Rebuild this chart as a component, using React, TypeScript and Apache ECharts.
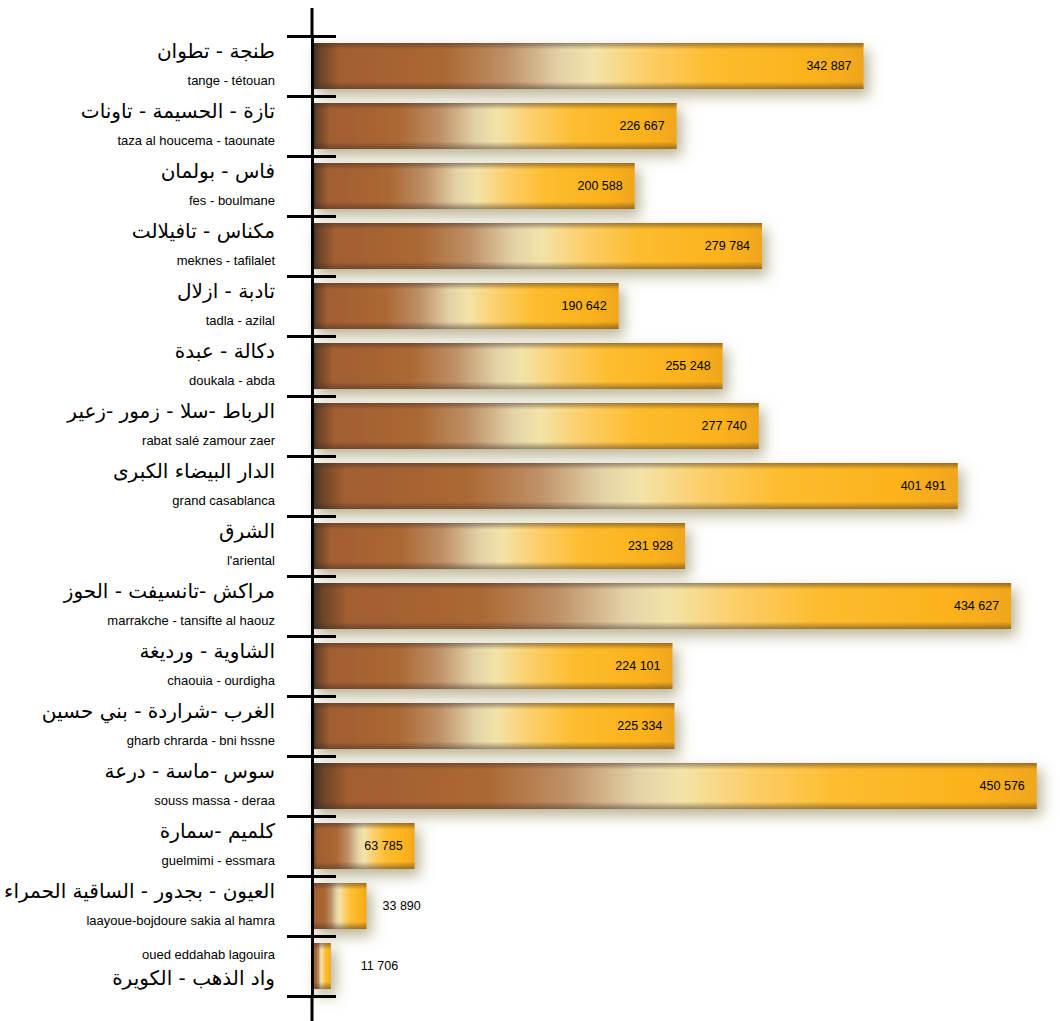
import React, { useEffect, useRef } from "react";
import * as echarts from "echarts";

const regionsFr = [
  "tange - tétouan",
  "taza al houcema - taounate",
  "fes - boulmane",
  "meknes - tafilalet",
  "tadla - azilal",
  "doukala - abda",
  "rabat salé zamour zaer",
  "grand casablanca",
  "l'ariental",
  "marrakche - tansifte al haouz",
  "chaouia - ourdigha",
  "gharb chrarda - bni hssne",
  "souss massa - deraa",
  "guelmimi - essmara",
  "laayoue-bojdoure sakia al hamra",
  "oued eddahab lagouira",
];

const regionsAr = [
  "طنجة - تطوان",
  "تازة - الحسيمة - تاونات",
  "فاس - بولمان",
  "مكناس - تافيلالت",
  "تادبة - ازلال",
  "دكالة - عبدة",
  "الرباط -سلا - زمور -زعير",
  "الدار البيضاء الكبرى",
  "الشرق",
  "مراكش -تانسيفت - الحوز",
  "الشاوية - ورديغة",
  "الغرب -شراردة - بني حسين",
  "سوس -ماسة - درعة",
  "كلميم -سمارة",
  "العيون - بجدور - الساقية الحمراء",
  "واد الذهب - الكويرة",
];

const values = [
  342887, 226667, 200588, 279784, 190642, 255248, 277740, 401491, 231928,
  434627, 224101, 225334, 450576, 63785, 33890, 11706,
];

const fmt = (v: number) => String(v).replace(/\B(?=(\d{3})+(?!\d))/g, " ");

export default function App() {
  const ref = useRef<HTMLDivElement>(null);
  useEffect(() => {
    document.body.style.margin = "0";
    const chart = echarts.init(ref.current!, undefined, { renderer: "svg" });
    const n = values.length;
    const barGrad = new echarts.graphic.LinearGradient(0, 0, 1, 0, [
      { offset: 0, color: "#3a2c22" },
      { offset: 0.015, color: "#6a4428" },
      { offset: 0.05, color: "#a25e30" },
      { offset: 0.24, color: "#ab6834" },
      { offset: 0.35, color: "#be9066" },
      { offset: 0.45, color: "#e4d2a8" },
      { offset: 0.51, color: "#f3e3a8" },
      { offset: 0.6, color: "#fccf6c" },
      { offset: 0.72, color: "#fdbd30" },
      { offset: 0.92, color: "#fbb11a" },
      { offset: 1, color: "#f0a61a" },
    ]);
    const edgeGrad = new echarts.graphic.LinearGradient(0, 0, 0, 1, [
      { offset: 0, color: "rgba(60,45,40,0.5)" },
      { offset: 0.14, color: "rgba(60,45,40,0)" },
      { offset: 0.84, color: "rgba(60,45,40,0)" },
      { offset: 1, color: "rgba(60,45,40,0.5)" },
    ]);
    const overlayData = values.map((v) => {
      if (v < 40000) {
        return {
          value: v,
          label: { position: "right", distance: v < 20000 ? 30 : 16 },
        };
      }
      return { value: v };
    });
    chart.setOption({
      animation: false,
      grid: {
        left: 312,
        right: 0,
        top: 36,
        bottom: 25,
        containLabel: false,
        outerBoundsMode: "none",
      },
      xAxis: { type: "value", min: 0, max: 465000, show: false },
      yAxis: [
        {
          type: "category",
          inverse: true,
          data: regionsFr,
          z: 10,
          axisLine: { show: true, lineStyle: { color: "#000", width: 3 } },
          axisTick: { show: true, length: 25, lineStyle: { color: "#000", width: 3 } },
          splitLine: { show: false },
          axisLabel: {
            margin: 37,
            formatter: (val: string, idx: number) =>
              idx === n - 1
                ? `{fr2|${val}}\n{ar2|${regionsAr[idx]}}`
                : `{ar|${regionsAr[idx]}}\n{fr|${val}}`,
            rich: {
              ar: {
                fontFamily: "DejaVu Sans",
                fontSize: 20,
                lineHeight: 28,
                color: "#000",
                align: "right",
              },
              fr: {
                fontFamily: "Liberation Sans",
                fontSize: 13,
                lineHeight: 30,
                color: "#000",
                align: "right",
              },
              fr2: {
                fontFamily: "Liberation Sans",
                fontSize: 13,
                lineHeight: 24,
                color: "#000",
                align: "right",
              },
              ar2: {
                fontFamily: "DejaVu Sans",
                fontSize: 20,
                lineHeight: 24,
                color: "#000",
                align: "right",
              },
            },
          },
        },
        {
          type: "category",
          inverse: true,
          data: regionsFr,
          position: "left",
          z: 10,
          axisLine: { show: false },
          axisTick: { show: true, inside: true, length: 24, lineStyle: { color: "#000", width: 3 } },
          axisLabel: { show: false },
          splitLine: { show: false },
        },
      ],
      graphic: [
        {
          type: "line",
          z: 100,
          shape: { x1: 312, y1: 8, x2: 312, y2: 36 },
          style: { stroke: "#000", lineWidth: 3 },
        },
        {
          type: "line",
          z: 100,
          shape: { x1: 312, y1: 996, x2: 312, y2: 1021 },
          style: { stroke: "#000", lineWidth: 3 },
        },
      ],
      series: [
        {
          type: "bar",
          yAxisIndex: 0,
          data: values,
          barWidth: 46,
          itemStyle: {
            color: barGrad,
            shadowBlur: 14,
            shadowColor: "rgba(120,105,40,0.5)",
            shadowOffsetX: 5,
            shadowOffsetY: 7,
          },
        },
        {
          type: "bar",
          yAxisIndex: 0,
          data: overlayData,
          barWidth: 46,
          barGap: "-100%",
          silent: true,
          itemStyle: { color: edgeGrad },
          label: {
            show: true,
            position: "insideRight",
            distance: 12,
            color: "#000",
            fontFamily: "Liberation Sans",
            fontSize: 12.5,
            formatter: (p: any) => fmt(p.value),
          },
        },
      ],
    });
    return () => chart.dispose();
  }, []);
  return <div ref={ref} style={{ width: 1060, height: 1021 }} />;
}
